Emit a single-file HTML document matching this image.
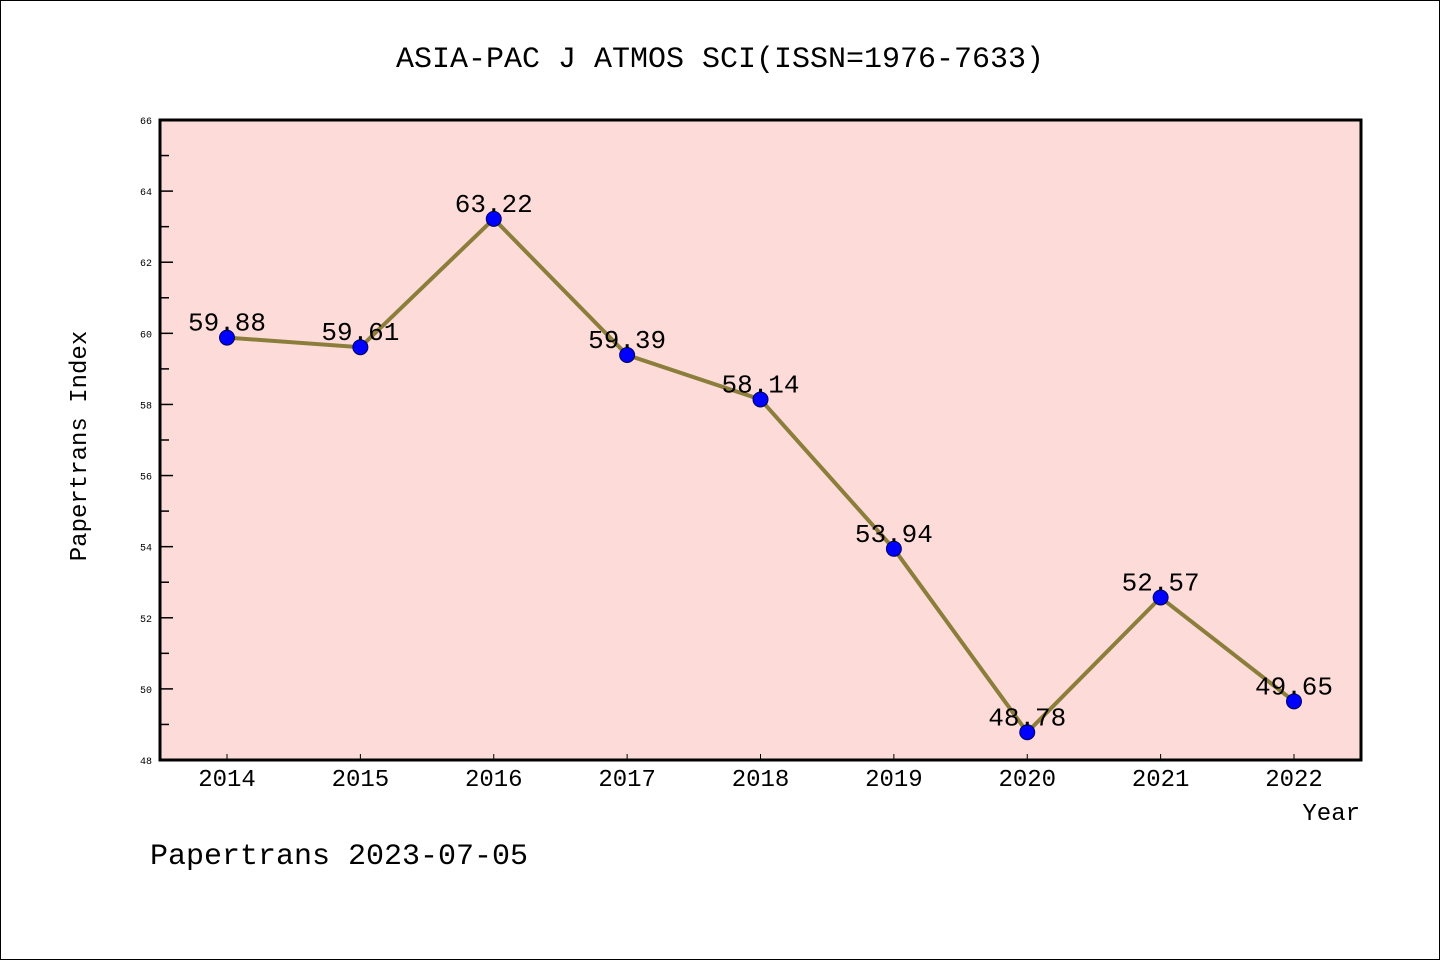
<!DOCTYPE html>
<html><head><meta charset="utf-8"><style>
html,body{margin:0;padding:0;background:#fff}
svg{display:block}
text{font-family:"Liberation Mono","DejaVu Sans Mono",monospace}
</style></head><body>
<svg id="chart" width="1440" height="960" xmlns="http://www.w3.org/2000/svg">
<rect x="0.5" y="0.5" width="1439" height="959" fill="#fff" stroke="#000" stroke-width="1"/>
<text x="720" y="67" font-size="30" text-anchor="middle">ASIA-PAC J ATMOS SCI(ISSN=1976-7633)</text>
<rect x="160" y="120" width="1201" height="640" fill="#fddbd8"/>
<g id="g"></g>
<rect x="160" y="120" width="1201" height="640" fill="none" stroke="#000" stroke-width="3"/>
<text x="86" y="446" font-size="24" text-anchor="middle" transform="rotate(-90 86 446)">Papertrans Index</text>
<text x="1360" y="820" font-size="24" text-anchor="end">Year</text>
<text x="150" y="864" font-size="30">Papertrans 2023-07-05</text>
</svg>
<script>
const years=[2014,2015,2016,2017,2018,2019,2020,2021,2022];
const values=[59.88,59.61,63.22,59.39,58.14,53.94,48.78,52.57,49.65];
const yTicks=[48,50,52,54,56,58,60,62,64,66];
const ns="http://www.w3.org/2000/svg";
const g=document.getElementById('g');
const X=i=>227+i*(1294-227)/(years.length-1);
const Y=v=>760-(v-48)*(640/18);
function mk(t,a,p){const e=document.createElementNS(ns,t);for(const k in a)e.setAttribute(k,a[k]);(p||g).appendChild(e);return e;}
yTicks.forEach(v=>{
 const l=mk('line',{x1:160,x2:173,y1:Y(v),y2:Y(v),stroke:'#000','stroke-width':1.5});
 
 
 const t=mk('text',{x:152,y:Y(v)+4,'font-size':10,'text-anchor':'end'});t.textContent=v;
 
 
 if(v<66){const m=mk('line',{x1:160,x2:169,y1:Y(v+1),y2:Y(v+1),stroke:'#000','stroke-width':1.5});
 
 }
});
years.forEach((yr,i)=>{
 const l=mk('line',{x1:X(i),x2:X(i),y1:760,y2:754,stroke:'#000','stroke-width':1});
 
 
 const t=mk('text',{x:X(i),y:786,'font-size':24,'text-anchor':'middle'});t.textContent=yr;
 
 
});
const pl=mk('polyline',{points:values.map((v,i)=>X(i)+','+Y(v)).join(' '),fill:'none',stroke:'#8b7d3a','stroke-width':4});


values.forEach((v,i)=>{
 const c=mk('circle',{cx:X(i),cy:Y(v),r:7.5,fill:'#0000ff',stroke:'#000055','stroke-width':1});
 
 
 const t=mk('text',{x:X(i),y:Y(v)-7,'font-size':26,'text-anchor':'middle'});t.textContent=v.toFixed(2);
 
 
});
</script>
</body></html>
